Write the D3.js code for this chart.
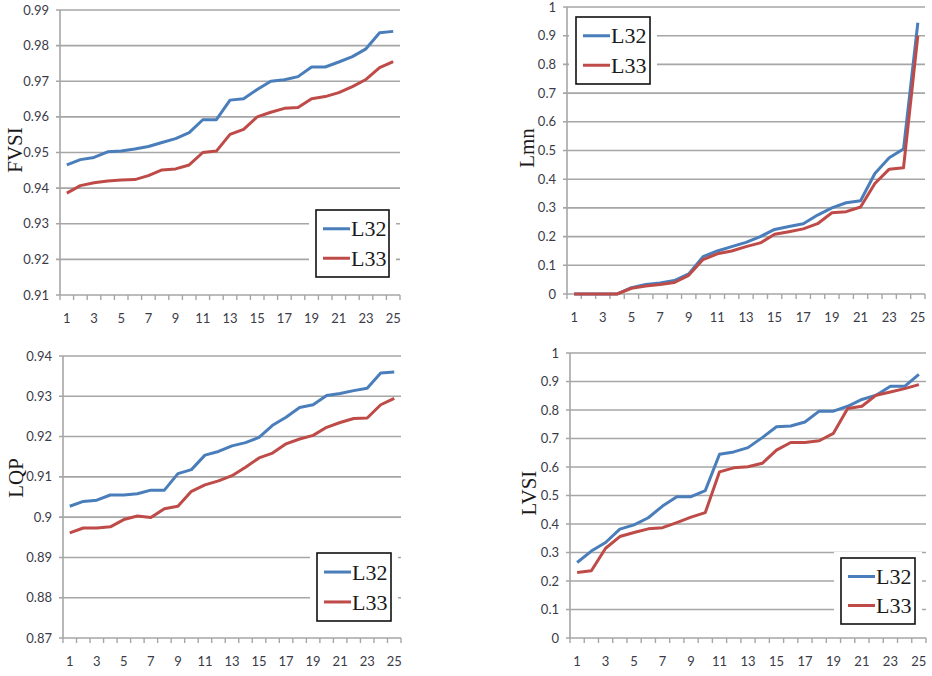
<!DOCTYPE html>
<html>
<head>
<meta charset="utf-8">
<script src="https://cdn.jsdelivr.net/npm/d3@7"></script>
<style>
  html, body { margin: 0; padding: 0; background: #fff; }
  svg { display: block; }
</style>
</head>
<body>
<svg id="chart" width="932" height="676"></svg>
<script>
// Case index 1..25 shared by all four panels
const categories = d3.range(1, 26).map(String);
const xTickLabels = categories.filter((d, i) => i % 2 === 0);
const seriesNames = ["L32", "L33"];

// FVSI
const fvsiL32 = [0.9465, 0.948, 0.9486, 0.9502, 0.9504, 0.951, 0.9517, 0.9528, 0.9539, 0.9556,
  0.9592, 0.9592, 0.9647, 0.9651, 0.9677, 0.970, 0.9704, 0.9713, 0.974, 0.974,
  0.9754, 0.9769, 0.9791, 0.9836, 0.984];
const fvsiL33 = [0.9386, 0.9407, 0.9415, 0.942, 0.9423, 0.9424, 0.9435, 0.9451, 0.9454, 0.9465,
  0.950, 0.9504, 0.9551, 0.9565, 0.960, 0.9613, 0.9624, 0.9626, 0.9651, 0.9657,
  0.9668, 0.9685, 0.9705, 0.9738, 0.9755];
const fvsiTicks = [0.91, 0.92, 0.93, 0.94, 0.95, 0.96, 0.97, 0.98, 0.99];

// Lmn
const lmnL32 = [0, 0, 0, 0, 0.022, 0.033, 0.038, 0.047, 0.07, 0.13,
  0.15, 0.165, 0.18, 0.2, 0.225, 0.235, 0.245, 0.275, 0.3, 0.318,
  0.325, 0.42, 0.475, 0.505, 0.945];
const lmnL33 = [0, 0, 0, 0, 0.02, 0.028, 0.033, 0.04, 0.065, 0.12,
  0.14, 0.15, 0.165, 0.178, 0.208, 0.217, 0.227, 0.245, 0.283, 0.287,
  0.303, 0.385, 0.435, 0.44, 0.9];
const lmnTicks = [0, 0.1, 0.2, 0.3, 0.4, 0.5, 0.6, 0.7, 0.8, 0.9, 1];

// LQP
const lqpL32 = [0.9027, 0.9039, 0.9042, 0.9055, 0.9055, 0.9058, 0.9067, 0.9067, 0.9108, 0.9118,
  0.9154, 0.9163, 0.9177, 0.9185, 0.9198, 0.9228, 0.9248, 0.9272, 0.9279, 0.9302,
  0.9307, 0.9314, 0.932, 0.9358, 0.936];
const lqpL33 = [0.8961, 0.8973, 0.8973, 0.8976, 0.8994, 0.9003, 0.8999, 0.9021, 0.9027, 0.9064,
  0.908, 0.909, 0.9103, 0.9124, 0.9147, 0.9159, 0.9182, 0.9194, 0.9203, 0.9223,
  0.9235, 0.9245, 0.9246, 0.9279, 0.9295];
const lqpTicks = [0.87, 0.88, 0.89, 0.9, 0.91, 0.92, 0.93, 0.94];

// LVSI
const lvsiL32 = [0.265, 0.305, 0.335, 0.382, 0.397, 0.422, 0.463, 0.496, 0.496, 0.517,
  0.645, 0.653, 0.668, 0.703, 0.741, 0.744, 0.758, 0.796, 0.796, 0.813,
  0.837, 0.852, 0.883, 0.883, 0.925];
const lvsiL33 = [0.23, 0.236, 0.315, 0.356, 0.37, 0.383, 0.387, 0.405, 0.424, 0.44,
  0.583, 0.597, 0.601, 0.613, 0.659, 0.686, 0.686, 0.692, 0.718, 0.805,
  0.813, 0.852, 0.863, 0.875, 0.889];
const lvsiTicks = lmnTicks;

const colors = { L32: "#4a7ebb", L33: "#be4b48" };
const gridColor = "#a6a6a6";

// Panel layout (plot area, axis title position, legend box)
const panels = [
  { title: "FVSI", series: [fvsiL32, fvsiL33], ticks: fvsiTicks,
    left: 60, right: 400, top: 10, bottom: 295, titleX: 15, titleY: 150,
    legend: { x: 316, y: 210, w: 73, h: 67 } },
  { title: "Lmn", series: [lmnL32, lmnL33], ticks: lmnTicks,
    left: 567, right: 925, top: 7, bottom: 294, titleX: 527, titleY: 148,
    legend: { x: 576, y: 17, w: 74, h: 67 } },
  { title: "LQP", series: [lqpL32, lqpL33], ticks: lqpTicks,
    left: 63, right: 401, top: 356, bottom: 638, titleX: 16, titleY: 478,
    legend: { x: 317, y: 553, w: 74, h: 68 } },
  { title: "LVSI", series: [lvsiL32, lvsiL33], ticks: lvsiTicks,
    left: 570, right: 926, top: 353, bottom: 638, titleX: 529, titleY: 493,
    legend: { x: 841, y: 558, w: 74, h: 66 } }
];

const svg = d3.select("#chart");
const fmt = v => String(+v.toFixed(2));

panels.forEach(p => {
  const g = svg.append("g");
  const x = d3.scaleBand().domain(categories).range([p.left, p.right]).padding(0);
  const y = d3.scaleLinear().domain(d3.extent(p.ticks)).range([p.bottom, p.top]);

  // Horizontal gridlines with left tick stubs
  g.append("g").selectAll("line").data(p.ticks).join("line")
    .attr("x1", p.left - 4).attr("x2", p.right)
    .attr("y1", d => y(d)).attr("y2", d => y(d))
    .attr("stroke", gridColor).attr("stroke-width", 1.6);

  // Y tick labels
  g.append("g").selectAll("text").data(p.ticks).join("text")
    .attr("x", p.left - 11).attr("y", d => y(d)).attr("dy", "0.35em")
    .attr("text-anchor", "end")
    .attr("font-family", "Lato, 'Open Sans', sans-serif")
    .attr("font-size", 13).attr("fill", "#3b3b48")
    .text(fmt);

  // Vertical axis line
  g.append("line")
    .attr("x1", p.left).attr("x2", p.left).attr("y1", p.top).attr("y2", p.bottom)
    .attr("stroke", gridColor).attr("stroke-width", 1.6);

  // Category axis: ticks at band edges, labels on odd cases
  const edges = categories.map(c => x(c)).concat([p.right]);
  g.append("g").selectAll("line").data(edges).join("line")
    .attr("x1", d => d).attr("x2", d => d)
    .attr("y1", p.bottom).attr("y2", p.bottom + 5)
    .attr("stroke", gridColor).attr("stroke-width", 1.4);
  g.append("g").selectAll("text").data(xTickLabels).join("text")
    .attr("x", d => x(d) + x.bandwidth() / 2).attr("y", p.bottom + 28)
    .attr("text-anchor", "middle")
    .attr("font-family", "Lato, 'Open Sans', sans-serif")
    .attr("font-size", 13).attr("fill", "#3b3b48")
    .text(d => d);

  // Axis title
  g.append("text")
    .attr("transform", `translate(${p.titleX},${p.titleY}) rotate(-90)`)
    .attr("dy", "0.35em").attr("text-anchor", "middle")
    .attr("font-family", "'Liberation Serif', serif")
    .attr("font-size", 21).attr("fill", "#1a1a1a")
    .text(p.title);

  // Series lines
  const line = d3.line()
    .x((d, i) => x(categories[i]) + x.bandwidth() / 2)
    .y(d => y(d));
  p.series.forEach((vals, si) => {
    g.append("path").datum(vals)
      .attr("d", line).attr("fill", "none")
      .attr("stroke", colors[seriesNames[si]])
      .attr("stroke-width", 3).attr("stroke-linejoin", "round");
  });

  // Legend
  const L = p.legend;
  g.append("rect")
    .attr("x", L.x - 7).attr("y", L.y - 6).attr("width", L.w + 14).attr("height", L.h + 12)
    .attr("fill", "#fff");
  g.append("rect")
    .attr("x", L.x).attr("y", L.y).attr("width", L.w).attr("height", L.h)
    .attr("fill", "#fff").attr("stroke", "#111").attr("stroke-width", 1.6);
  seriesNames.forEach((name, i) => {
    const ly = L.y + L.h * (i === 0 ? 0.28 : 0.72);
    g.append("line")
      .attr("x1", L.x + 7).attr("x2", L.x + 34).attr("y1", ly).attr("y2", ly)
      .attr("stroke", colors[name]).attr("stroke-width", 3);
    g.append("text")
      .attr("x", L.x + 35).attr("y", ly).attr("dy", "0.35em")
      .attr("font-family", "'Liberation Serif', serif")
      .attr("font-size", 22).attr("fill", "#1a1a1a")
      .text(name);
  });
});
</script>
</body>
</html>
